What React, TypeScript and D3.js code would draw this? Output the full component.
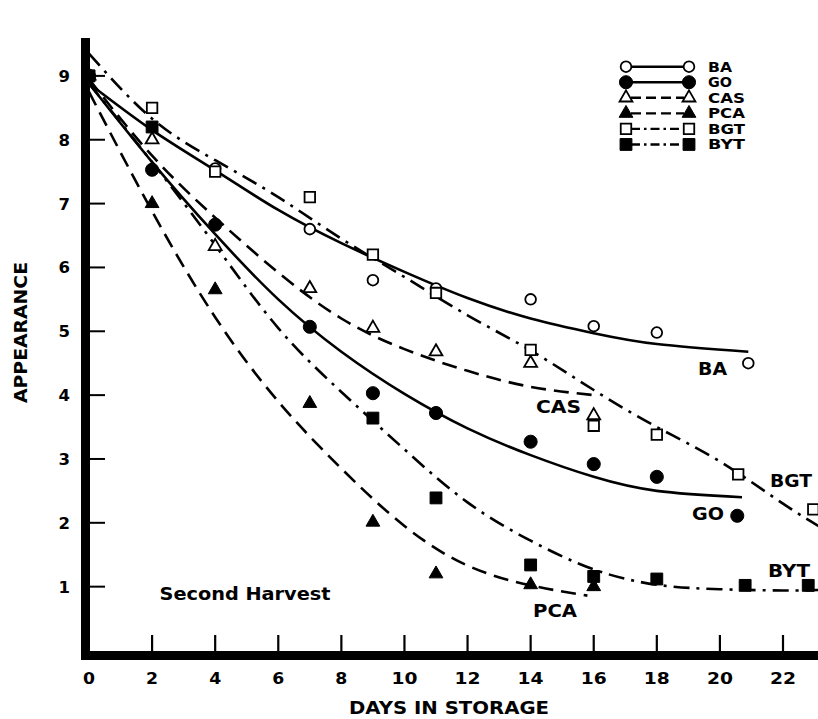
import React from 'react';
import * as d3 from 'd3';

// ---- data ----
const X_TICKS = [0, 2, 4, 6, 8, 10, 12, 14, 16, 18, 20, 22];
const Y_TICKS = [1, 2, 3, 4, 5, 6, 7, 8, 9];

const BA_DAYS = [0, 4, 7, 9, 11, 14, 16, 18, 20.9];
const BA_VALUES = [9, 7.55, 6.6, 5.8, 5.67, 5.5, 5.08, 4.98, 4.5];
const GO_DAYS = [0, 2, 4, 7, 9, 11, 14, 16, 18, 20.55];
const GO_VALUES = [9, 7.53, 6.67, 5.07, 4.03, 3.72, 3.27, 2.92, 2.72, 2.11];
const CAS_DAYS = [0, 2, 4, 7, 9, 11, 14, 16];
const CAS_VALUES = [9, 8.0, 6.33, 5.67, 5.05, 4.68, 4.5, 3.68];
const PCA_DAYS = [0, 2, 4, 7, 9, 11, 14, 16];
const PCA_VALUES = [9, 7.0, 5.65, 3.87, 2.01, 1.2, 1.03, 1.0];
const BGT_DAYS = [0, 2, 4, 7, 9, 11, 14, 16, 18, 20.58, 22.96];
const BGT_VALUES = [9, 8.5, 7.5, 7.1, 6.2, 5.6, 4.71, 3.52, 3.38, 2.76, 2.21];
const BYT_DAYS = [0, 2, 9, 11, 14, 16, 18, 20.8, 22.8];
const BYT_VALUES = [9, 8.2, 3.64, 2.39, 1.34, 1.16, 1.12, 1.02, 1.02];

// fitted curves
const BA_FIT_DAYS = [0, 2, 4, 6, 8, 10, 12, 14, 16, 18, 20.9];
const BA_FIT = [8.88, 8.15, 7.52, 6.9, 6.38, 5.93, 5.52, 5.2, 4.97, 4.8, 4.68];
const GO_FIT_DAYS = [0, 2, 4, 6, 8, 10, 12, 14, 16, 18, 20.7];
const GO_FIT = [8.88, 7.65, 6.52, 5.5, 4.68, 4.02, 3.48, 3.06, 2.72, 2.5, 2.4];
const CAS_FIT_DAYS = [0, 2, 4, 6, 8, 10, 12, 14, 16];
const CAS_FIT = [8.95, 7.75, 6.78, 5.92, 5.2, 4.72, 4.38, 4.13, 4.0];
const PCA_FIT_DAYS = [0, 2, 4, 6, 8, 10, 12, 14, 15.8];
const PCA_FIT = [8.75, 6.88, 5.22, 3.9, 2.85, 1.95, 1.33, 1.02, 0.86];
const BGT_FIT_DAYS = [0, 2, 4, 6, 8, 10, 12, 14, 16, 18, 20, 22, 23.3];
const BGT_FIT = [9.35, 8.33, 7.68, 7.1, 6.45, 5.85, 5.25, 4.7, 4.08, 3.5, 2.96, 2.3, 1.9];
const BYT_FIT_DAYS = [0, 2, 4, 6, 8, 10, 12, 14, 16, 18, 20, 22, 23.3];
const BYT_FIT = [8.88, 7.65, 6.35, 5.05, 4.05, 3.15, 2.32, 1.72, 1.27, 1.03, 0.96, 0.94, 0.95];

const SERIES_NAMES = ['BA', 'GO', 'CAS', 'PCA', 'BGT', 'BYT'];

const W = 818;
const H = 719;
const FONT = '"DejaVu Sans", "Liberation Sans", Arial, sans-serif';

const x = d3.scaleLinear().domain([0, 22]).range([89, 783]);
const y = d3.scaleLinear().domain([0, 9]).range([650.5, 75.9]);

type Style = {
  shape: 'circle' | 'triangle' | 'square';
  filled: boolean;
  dash: string | undefined;
};

const STYLES: Record<string, Style> = {
  BA: { shape: 'circle', filled: false, dash: undefined },
  GO: { shape: 'circle', filled: true, dash: undefined },
  CAS: { shape: 'triangle', filled: false, dash: '15 8' },
  PCA: { shape: 'triangle', filled: true, dash: '15 8' },
  BGT: { shape: 'square', filled: false, dash: '16 7 3 7' },
  BYT: { shape: 'square', filled: true, dash: '16 7 3 7' },
};

const SERIES = [
  { name: 'BA', days: BA_DAYS, values: BA_VALUES, fitDays: BA_FIT_DAYS, fit: BA_FIT },
  { name: 'GO', days: GO_DAYS, values: GO_VALUES, fitDays: GO_FIT_DAYS, fit: GO_FIT },
  { name: 'CAS', days: CAS_DAYS, values: CAS_VALUES, fitDays: CAS_FIT_DAYS, fit: CAS_FIT },
  { name: 'PCA', days: PCA_DAYS, values: PCA_VALUES, fitDays: PCA_FIT_DAYS, fit: PCA_FIT },
  { name: 'BGT', days: BGT_DAYS, values: BGT_VALUES, fitDays: BGT_FIT_DAYS, fit: BGT_FIT },
  { name: 'BYT', days: BYT_DAYS, values: BYT_VALUES, fitDays: BYT_FIT_DAYS, fit: BYT_FIT },
];

function symbolPath(shape: Style['shape'], filled: boolean): string {
  let type = d3.symbolCircle;
  let size = filled ? 135 : 90;
  if (shape === 'triangle') {
    type = d3.symbolTriangle;
    size = filled ? 82 : 72;
  } else if (shape === 'square') {
    type = d3.symbolSquare;
    size = filled ? 140 : 110;
  }
  return d3.symbol().type(type).size(size)() as string;
}

function Marker({ cx, cy, style }: { cx: number; cy: number; style: Style }) {
  return (
    <path
      d={symbolPath(style.shape, style.filled)}
      transform={`translate(${cx},${cy})`}
      fill={style.filled ? '#000' : '#fff'}
      stroke="#000"
      strokeWidth={style.filled ? 1 : 1.8}
    />
  );
}

const line = d3
  .line<[number, number]>()
  .x((d) => x(d[0]))
  .y((d) => y(d[1]))
  .curve(d3.curveNatural);

const LABELS = [
  { text: 'BA', cx: 712.5, by: 375, len: 29 },
  { text: 'CAS', cx: 558.5, by: 413, len: 45 },
  { text: 'GO', cx: 708, by: 520, len: 32 },
  { text: 'BGT', cx: 791, by: 487, len: 42 },
  { text: 'BYT', cx: 789, by: 577, len: 42 },
  { text: 'PCA', cx: 555, by: 617, len: 44 },
];

export default function App() {
  const legendX0 = 626;
  const legendX1 = 689;
  const legendTextX = 708;
  const legendY0 = 66.7;
  const legendStep = 15.55;

  return (
    <svg
      width={W}
      height={H}
      viewBox={`0 0 ${W} ${H}`}
      style={{ position: 'absolute', left: 0, top: 0, background: '#fff' }}
      fontFamily={FONT}
    >
      <rect x={0} y={0} width={W} height={H} fill="#fff" />
      <defs>
        <clipPath id="plotclip">
          <rect x={0} y={0} width={W} height={651} />
        </clipPath>
      </defs>

      {/* fitted curves */}
      <g clipPath="url(#plotclip)">
        {SERIES.map((s) => (
          <path
            key={s.name}
            d={line(s.fitDays.map((d, i) => [d, s.fit[i]] as [number, number])) as string}
            fill="none"
            stroke="#000"
            strokeWidth={2.6}
            strokeDasharray={STYLES[s.name].dash}
          />
        ))}
      </g>

      {/* data points */}
      <g>
        {SERIES.map((s) =>
          s.days.map((d, i) => (
            <Marker key={s.name + i} cx={x(d)} cy={y(s.values[i])} style={STYLES[s.name]} />
          ))
        )}
      </g>

      {/* axes */}
      <line x1={85.5} x2={85.5} y1={38} y2={660} stroke="#000" strokeWidth={9} />
      <line x1={81} x2={W} y1={655.5} y2={655.5} stroke="#000" strokeWidth={9} />
      {Y_TICKS.map((t) => (
        <g key={'y' + t}>
          <line x1={89} x2={105} y1={y(t)} y2={y(t)} stroke="#000" strokeWidth={2} />
          <text
            x={70}
            y={y(t) + 6}
            textAnchor="end"
            fontSize={16.5}
            fontWeight="bold"
          >
            {t}
          </text>
        </g>
      ))}
      {X_TICKS.map((t) => (
        <g key={'x' + t}>
          {t > 0 && (
            <line x1={x(t)} x2={x(t)} y1={635} y2={652} stroke="#000" strokeWidth={2.2} />
          )}
          <text
            x={x(t)}
            y={683.5}
            textAnchor="middle"
            fontSize={16.5}
            fontWeight="bold"
            textLength={String(t).length > 1 ? 26 : 12}
            lengthAdjust="spacingAndGlyphs"
          >
            {t}
          </text>
        </g>
      ))}

      {/* axis titles */}
      <text
        x={449}
        y={714}
        textAnchor="middle"
        fontSize={18}
        fontWeight="bold"
        textLength={200}
        lengthAdjust="spacingAndGlyphs"
      >
        DAYS IN STORAGE
      </text>
      <text
        transform="translate(27,332.5) rotate(-90)"
        textAnchor="middle"
        fontSize={17.5}
        fontWeight="bold"
        textLength={141}
        lengthAdjust="spacingAndGlyphs"
      >
        APPEARANCE
      </text>

      {/* series labels */}
      {LABELS.map((l) => (
        <text
          key={l.text}
          x={l.cx}
          y={l.by}
          textAnchor="middle"
          fontSize={18}
          fontWeight="bold"
          textLength={l.len}
          lengthAdjust="spacingAndGlyphs"
        >
          {l.text}
        </text>
      ))}

      <text
        x={159.5}
        y={599.5}
        fontSize={18}
        fontWeight="bold"
        textLength={171}
        lengthAdjust="spacingAndGlyphs"
      >
        Second Harvest
      </text>

      {/* legend */}
      {SERIES_NAMES.map((name, i) => {
        const st = STYLES[name];
        const ly = legendY0 + i * legendStep;
        return (
          <g key={'lg' + name}>
            <line
              x1={legendX0 + 5}
              x2={legendX1 - 5}
              y1={ly}
              y2={ly}
              stroke="#000"
              strokeWidth={2.4}
              strokeDasharray={st.dash ? (st.shape === 'square' ? '9 4 2.5 4' : '10 5') : undefined}
            />
            <Marker cx={legendX0} cy={ly} style={st} />
            <Marker cx={legendX1} cy={ly} style={st} />
            <text
              x={legendTextX}
              y={ly + 5}
              fontSize={13.5}
              fontWeight="bold"
              textLength={name.length === 2 ? 24 : 37}
              lengthAdjust="spacingAndGlyphs"
            >
              {name}
            </text>
          </g>
        );
      })}
    </svg>
  );
}
